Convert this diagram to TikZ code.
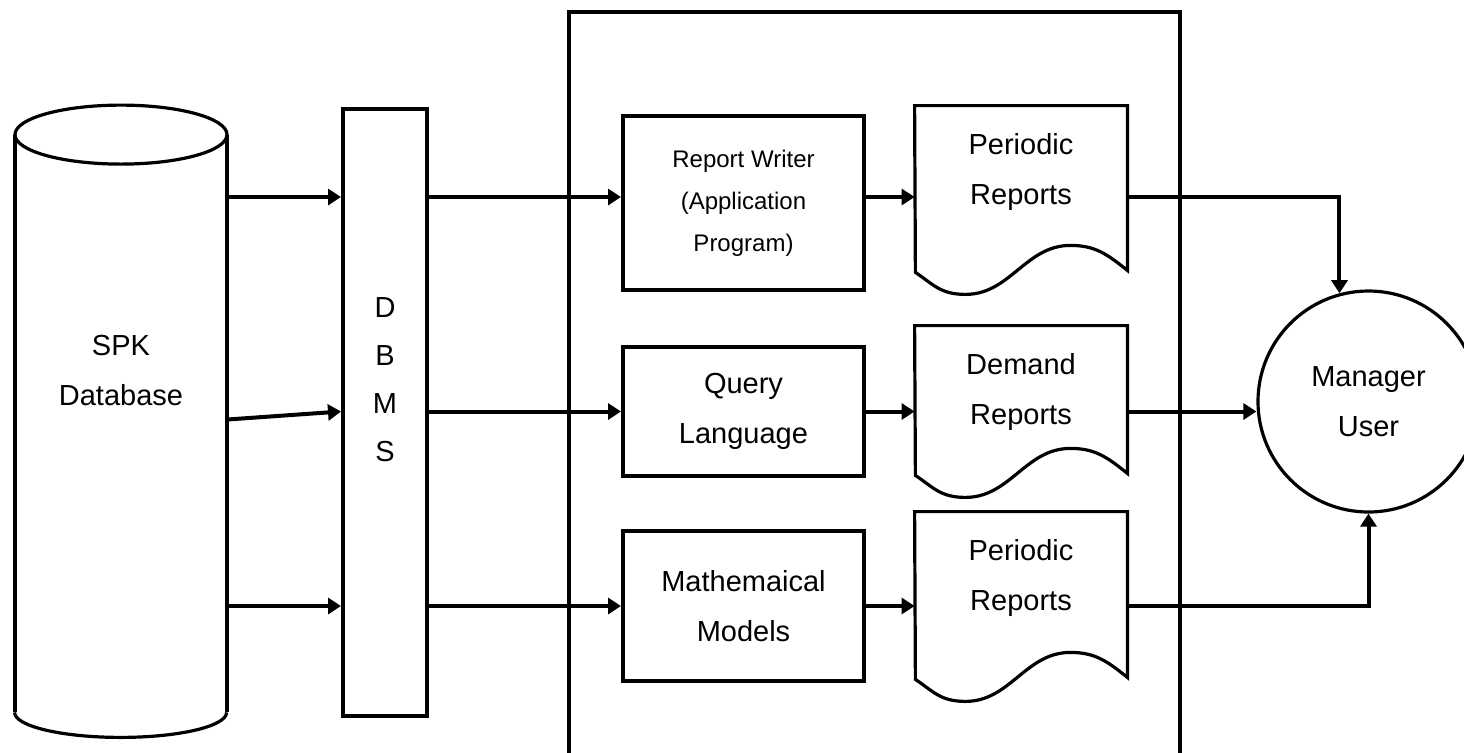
\documentclass[tikz,border=0pt]{standalone}
\usepackage{fontspec}
\setmainfont{Liberation Sans}
\usetikzlibrary{arrows.meta}

\tikzset{
  box/.style={draw, line width=2pt, align=center, inner sep=0pt},
  lbl/.style={align=center, font=\fontsize{14.5}{25}\selectfont},
  docu/.style={lbl, minimum width=106pt, minimum height=66pt, inner sep=0pt},
  flow/.style={line width=2pt, -{Triangle[length=6.5pt,width=8pt]}},
  wire/.style={line width=2pt},
  curve/.style={line width=1.6pt},
}

\begin{document}
\begin{tikzpicture}[x=0.5pt, y=-0.5pt]
  \useasboundingbox (0,0) rectangle (1464,752);

  % database cylinder
  \node[minimum width=106pt, minimum height=288.5pt, inner sep=0pt] (db) at (121,423.5) {};
  \draw[curve] (db.north) ellipse [x radius=53pt, y radius=14.75pt];
  \draw[wire] (db.north west) -- (db.south west);
  \draw[wire] (db.north east) -- (db.south east);
  \draw[curve] (db.south west) arc[start angle=180, end angle=360, x radius=53pt, y radius=12.5pt];
  \node[lbl] (dbtxt) at (121,371) {SPK\\Database};

  % DBMS bar
  \node[box, minimum width=42pt, minimum height=303.5pt] (dbms) at (385,412.5) {};
  \node[lbl, font=\fontsize{14.5}{24}\selectfont] (dbmstxt) at (385,380) {D\\B\\M\\S};

  % application frame
  \draw[wire] (569,770) -- (569,12) -- (1180,12) -- (1180,770);

  % programs
  \node[box, minimum width=120.5pt, minimum height=87pt, font=\fontsize{12}{21}\selectfont] (rw) at (743.5,203) {Report Writer\\(Application\\Program)};
  \node[box, lbl, minimum width=120.5pt, minimum height=64.5pt] (ql) at (743.5,411.5) {Query\\Language};
  \node[box, lbl, minimum width=120.5pt, minimum height=75pt] (mm) at (743.5,606) {Mathemaical\\Models};
  \path (rw.west) ++(0,-6) coordinate (rwin);
  \path (rw.east) ++(0,-6) coordinate (rwout);

  % reports
  \node[docu] (pr1) at (1021,172) {Periodic\\Reports};
  \node[docu] (dr) at (1021,392) {Demand\\Reports};
  \node[docu] (pr2) at (1021,578) {Periodic\\Reports};
  \foreach \d/\h in {pr1/32, dr/15, pr2/33}
    \draw[curve] (\d.north west) -- (\d.north east) -- (\d.south east) -- ++(0,\h)
      .. controls +(-20,-16) and +(25,0) .. ++(-57,-25)
      .. controls +(-45,0) and +(45,0) .. ++(-105,49)
      .. controls +(-25,0) and +(18,12) .. ++(-50,-22) -- cycle;

  % manager
  \node[draw, circle, curve, lbl, minimum size=110.5pt, inner sep=0pt] (mgr) at (1368.5,401.5) {Manager\\User};

  % database to DBMS
  \path (db.east |- ql.west) ++(0,8) coordinate (dbm);
  \draw[flow] (db.east |- rwin) -- (dbms.west |- rwin);
  \draw[flow] (dbm) -- (dbms.west |- ql.west);
  \draw[flow] (db.east |- mm.west) -- (dbms.west |- mm.west);

  % DBMS to programs to reports
  \draw[flow] (dbms.east |- rwin) -- (rwin);
  \draw[flow] (rwout) -- (rwout -| pr1.west);
  \foreach \b/\d in {ql/dr, mm/pr2} {
    \draw[flow] (dbms.east |- \b.west) -- (\b.west);
    \draw[flow] (\b.east) -- (\b.east -| \d.west);
  }

  % reports to manager
  \draw[flow] (pr1.east |- rwout) -| (mgr.105);
  \draw[flow] (dr.east |- ql.east) -- (mgr.west |- ql.east);
  \draw[flow] (pr2.east |- mm.east) -| (mgr.south);
\end{tikzpicture}
\end{document}
